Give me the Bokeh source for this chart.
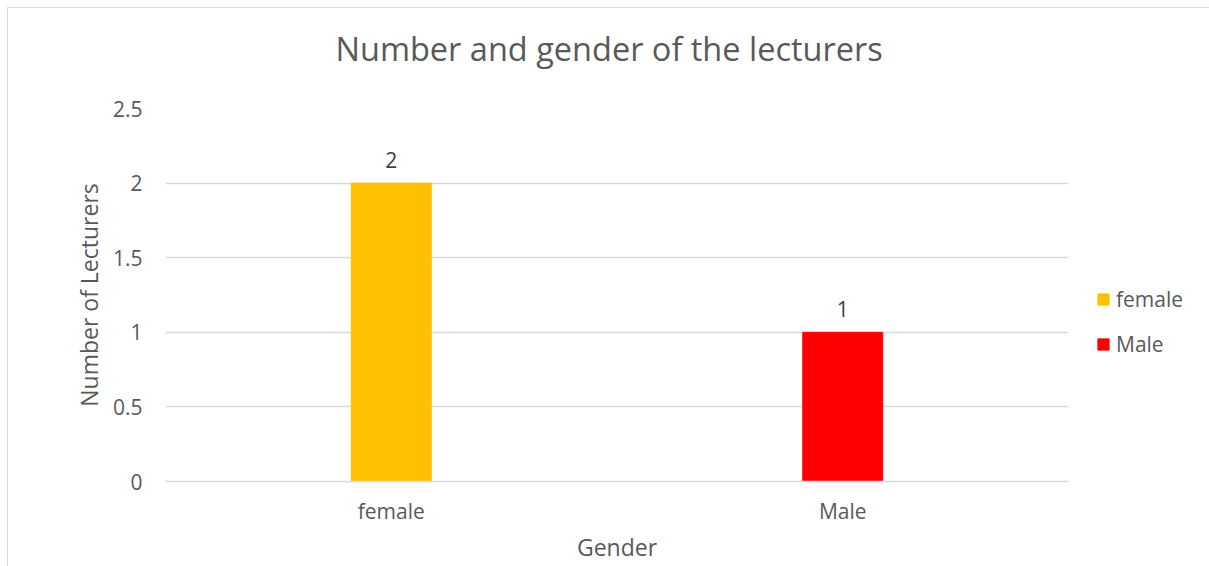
from bokeh.plotting import figure
from bokeh.models import ColumnDataSource, LabelSet, Legend, LegendItem, FactorRange, Range1d, SingleIntervalTicker, Title
from bokeh.core.properties import value
from bokeh.embed import file_html
from bokeh.resources import INLINE

categories = ["female", "Male"]
values = [2, 1]
colors = ["#FFC000", "#FF0000"]
title_text = "Number and gender of the lecturers"

FONT = "Open Sans"
GREY = "#595959"

src = ColumnDataSource(dict(cat=categories, val=values, color=colors, lab=[str(v) for v in values]))

p = figure(frame_width=903, frame_height=373, output_backend="svg", toolbar_location=None,
           x_range=FactorRange(*categories, range_padding=0), y_range=Range1d(0, 2.5),
           min_border_left=157, min_border_right=140, min_border_top=100, min_border_bottom=85,
           title=None)
p.styles = {"border-left": "1px solid #d9d9d9", "border-top": "1px solid #d9d9d9",
            "margin-left": "7px", "margin-top": "7px"}

r = p.vbar(x="cat", top="val", width=0.177, color="color", source=src)

labels = LabelSet(x="cat", y="val", text="lab", source=src, text_align="center", text_baseline="bottom",
                  y_offset=15, text_font=value(FONT), text_font_size="21px", text_color="#404040")
p.add_layout(labels)

spacer = Title(text=" ", text_font=FONT, text_font_size="20px", standoff=0)
p.add_layout(spacer, "above")
main_title = Title(text=title_text, align="left", offset=170, text_font=FONT, text_font_size="32.5px",
                   text_font_style="normal", text_color=GREY, standoff=17)
p.add_layout(main_title, "above")

p.outline_line_color = None
p.xgrid.grid_line_color = None
p.ygrid.grid_line_color = "#d9d9d9"
p.ygrid.grid_line_width = 1.5
p.yaxis.ticker = SingleIntervalTicker(interval=0.5)

for ax in (p.xaxis, p.yaxis):
    ax.major_tick_line_color = None
    ax.minor_tick_line_color = None
    ax.major_label_text_font = FONT
    ax.major_label_text_font_size = "21px"
    ax.major_label_text_color = GREY
    ax.axis_label_text_font = FONT
    ax.axis_label_text_font_size = "23px"
    ax.axis_label_text_font_style = "normal"
    ax.axis_label_text_color = GREY

p.yaxis.axis_line_color = None
p.xaxis.axis_line_color = "#d9d9d9"
p.xaxis.axis_line_width = 1.5
p.yaxis.major_label_standoff = 17
p.xaxis.major_label_standoff = 9
p.xaxis.axis_label = "Gender"
p.yaxis.axis_label = "Number of Lecturers"
p.xaxis.axis_label_standoff = 3
p.yaxis.axis_label_standoff = 5

items = [LegendItem(label=categories[i], renderers=[r], index=i) for i in range(len(categories))]
legend = Legend(items=items, location=(28, 123), orientation="vertical",
                label_text_font=FONT, label_text_font_size="21px", label_text_color=GREY,
                glyph_width=14, glyph_height=14, label_height=29, spacing=16,
                border_line_color=None, background_fill_alpha=0, padding=0, margin=0,
                label_standoff=6)
p.add_layout(legend, "right")

open("out.html", "w").write(file_html(p, INLINE))
